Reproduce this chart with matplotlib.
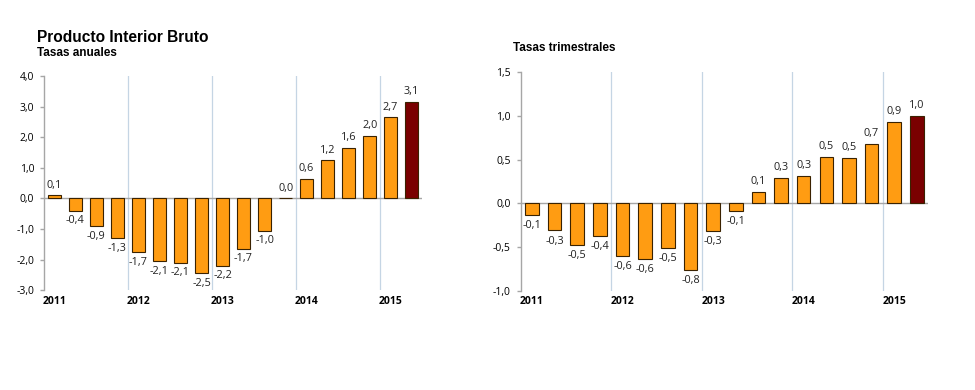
import numpy as np
import matplotlib.pyplot as plt

# Quarters 2011Q1 .. 2015Q2
years = ['2011', '2012', '2013', '2014', '2015']
anual = [0.1, -0.4, -0.9, -1.3, -1.75, -2.05, -2.1, -2.45, -2.2, -1.65, -1.05, 0.01, 0.65, 1.25, 1.65, 2.05, 2.65, 3.15]
anual_lbl = ['0,1', '-0,4', '-0,9', '-1,3', '-1,7', '-2,1', '-2,1', '-2,5', '-2,2', '-1,7', '-1,0', '0,0', '0,6', '1,2', '1,6', '2,0', '2,7', '3,1']
trim = [-0.13, -0.31, -0.48, -0.37, -0.6, -0.64, -0.51, -0.76, -0.32, -0.09, 0.13, 0.29, 0.31, 0.53, 0.52, 0.68, 0.93, 1.0]
trim_lbl = ['-0,1', '-0,3', '-0,5', '-0,4', '-0,6', '-0,6', '-0,5', '-0,8', '-0,3', '-0,1', '0,1', '0,3', '0,3', '0,5', '0,5', '0,7', '0,9', '1,0']

ORANGE = '#FF9C12'
DARK = '#7A0000'
GRID = '#C5D5E4'
AXC = '#A6A6A6'
NUMFONT = 'Open Sans'


def panel(ax, vals, lbls, ylim, yticks, off):
    n = len(vals)
    x = np.arange(n)
    colors = [ORANGE] * (n - 1) + [DARK]
    for b in range(4, n, 4):
        ax.axvline(b - 0.5, color=GRID, lw=0.9, zorder=0)
    ax.bar(x, vals, width=0.6, color=colors, edgecolor='#3a2200', linewidth=0.8, zorder=3)
    ax.axhline(0, color=AXC, lw=1, zorder=2)
    for xi, v, s in zip(x, vals, lbls):
        if v >= 0:
            ax.text(xi, v + off, s, ha='center', va='bottom', fontsize=7.8, family=NUMFONT, color='#222222')
        else:
            ax.text(xi, v - off, s, ha='center', va='top', fontsize=7.8, family=NUMFONT, color='#222222')
    ax.set_xlim(-0.5, n - 0.5)
    ax.set_ylim(*ylim)
    ax.set_yticks(yticks)
    ax.set_yticklabels([f'{t:.1f}'.replace('.', ',') for t in yticks], family=NUMFONT, fontsize=7.5)
    ax.set_xticks(np.arange(0, n, 4))
    ax.set_xticklabels(years, family=NUMFONT, fontsize=7.5, fontweight='bold')
    ax.tick_params(axis='x', length=0, pad=4)
    ax.tick_params(axis='y', length=3, color=AXC, width=1, pad=4)
    for s in ['top', 'right', 'bottom']:
        ax.spines[s].set_visible(False)
    ax.spines['left'].set_color(AXC)
    ax.spines['left'].set_linewidth(1)


fig = plt.figure(figsize=(9.75, 3.9), dpi=100)
ax1 = fig.add_axes([0.045, 0.256, 0.388, 0.549])
ax2 = fig.add_axes([0.534, 0.255, 0.418, 0.560])

panel(ax1, anual, anual_lbl, (-3, 4), [-3, -2, -1, 0, 1, 2, 3, 4], 0.15)
panel(ax2, trim, trim_lbl, (-1, 1.5), [-1, -0.5, 0, 0.5, 1, 1.5], 0.06)

fig.text(0.038, 0.905, 'Producto Interior Bruto', fontsize=11.2, fontweight='bold', family='Liberation Sans', va='center')
fig.text(0.038, 0.865, 'Tasas anuales', fontsize=8.5, fontweight='bold', family='Liberation Sans', va='center')
fig.text(0.526, 0.878, 'Tasas trimestrales', fontsize=8.5, fontweight='bold', family='Liberation Sans', va='center')

fig.savefig('out.png', dpi=100)
